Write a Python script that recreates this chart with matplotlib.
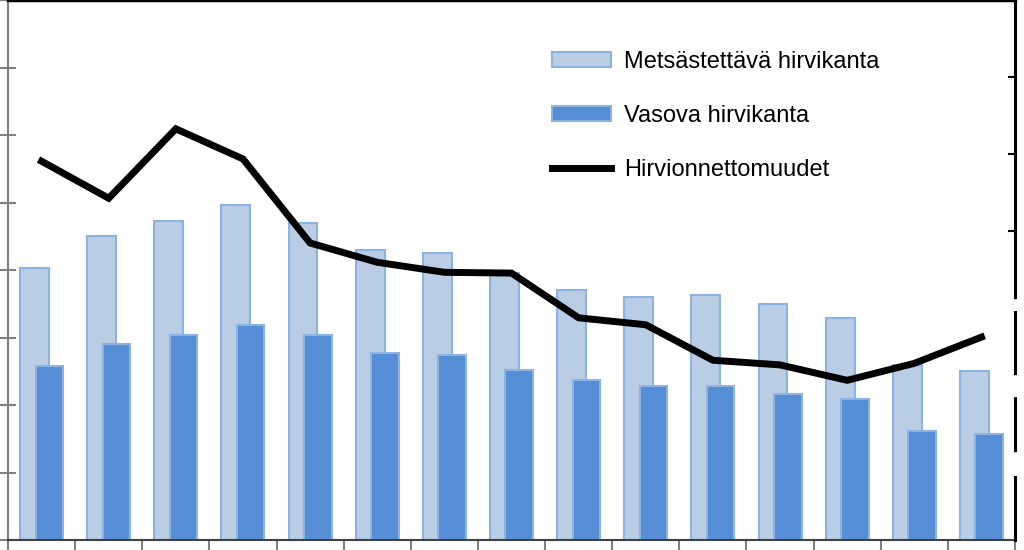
import numpy as np
import matplotlib.pyplot as plt

plt.rcParams['font.family'] = ['Liberation Sans', 'DejaVu Sans']

# Years (categories, no labels shown in the crop)
years = list(range(1998, 2013))

# Metsästettävä hirvikanta (thousand animals, left axis)
metsastettava = [80.6, 90.0, 94.6, 99.2, 94.0, 86.0, 85.0, 79.2, 74.0, 72.0,
                 72.6, 70.0, 65.8, 51.8, 50.0]

# Vasova hirvikanta (thousand animals, left axis)
vasova = [51.6, 58.0, 60.8, 63.8, 60.8, 55.4, 54.8, 50.4, 47.4, 45.6,
          45.6, 43.2, 41.8, 32.2, 31.4]

# Hirvionnettomuudet (accidents, right axis)
onnettomuudet = [2455, 2215, 2665, 2470, 1925, 1800, 1735, 1730, 1440, 1395,
                 1165, 1135, 1035, 1145, 1315]

x = np.arange(len(years))

fig = plt.figure(figsize=(10.24, 5.5), dpi=100)
ax = fig.add_axes([8 / 1024, 10 / 550, 1007 / 1024, 540 / 550])

light_bars = ax.bar(x - 0.105, metsastettava, width=0.43, color='#b9cde5',
                    edgecolor='#8db3e2', linewidth=1.5, label='Metsästettävä hirvikanta')
dark_bars = ax.bar(x + 0.115, vasova, width=0.41, color='#558ed5',
                   edgecolor='#8db3e2', linewidth=1.5, label='Vasova hirvikanta')

ax.set_xlim(-0.5, len(years) - 0.5)
ax.set_ylim(0, 160)
ax.set_yticks(np.arange(0, 161, 20))
ax.set_xticks(np.arange(-0.5, len(years), 1))
ax.tick_params(axis='y', direction='inout', length=11, width=1.5, color='#808080',
               labelleft=False)
ax.tick_params(axis='x', direction='out', length=7, width=1.5, color='#808080',
               labelbottom=False)
ax.spines['left'].set_color('#808080')
ax.spines['left'].set_linewidth(1.5)
ax.spines['bottom'].set_color('#404040')
ax.spines['bottom'].set_linewidth(1.5)
ax.spines['right'].set_visible(False)
ax.spines['top'].set_visible(False)

ax2 = ax.twinx()
line, = ax2.plot(x, onnettomuudet, color='black', linewidth=5,
                 solid_joinstyle='miter', label='Hirvionnettomuudet')
ax2.set_ylim(0, 3500)
ax2.set_yticks([2000, 2500, 3000])
ax2.tick_params(axis='y', direction='in', length=5, width=1.5, color='black',
                labelright=False)
for side in ['left', 'bottom']:
    ax2.spines[side].set_visible(False)
ax2.spines['top'].set_color('black')
ax2.spines['top'].set_linewidth(2.5)
ax2.spines['right'].set_color('black')
ax2.spines['right'].set_linewidth(2.2)
# broken right axis line, as in the scanned original (dashes scale with lw)
ax2.spines['right'].set_linestyle((0, (20.6, 8.8, 17.0, 8.2, 20.0, 4.9, 105, 0.5)))

leg = ax2.legend([light_bars, dark_bars, line],
                 ['Metsästettävä hirvikanta', 'Vasova hirvikanta', 'Hirvionnettomuudet'],
                 loc='upper left', bbox_to_anchor=(552 / 1024, 1 - 51 / 550),
                 bbox_transform=fig.transFigure, frameon=False, fontsize=17,
                 borderpad=0, borderaxespad=0, handlelength=2.5, handleheight=0.58,
                 handletextpad=0.55, labelspacing=1.36)

fig.savefig('out.png', dpi=100)
